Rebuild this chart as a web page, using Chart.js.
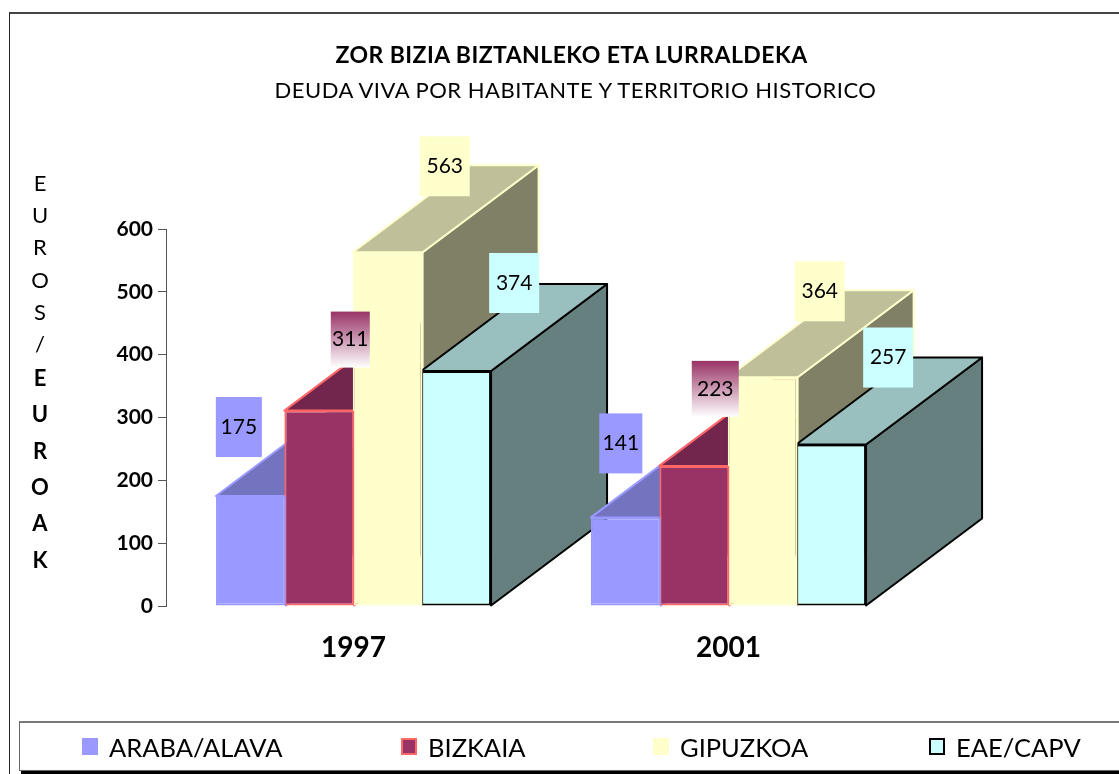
<!DOCTYPE html>
<html lang="eu">
<head>
<meta charset="utf-8">
<title>Zor bizia biztanleko eta lurraldeka</title>
<script src="https://cdn.jsdelivr.net/npm/chart.js@4"></script>
<style>
    html, body { margin: 0; width: 1119px; height: 774px; overflow: hidden; background: #fff; }
    body { position: relative; font-family: Lato, sans-serif; color: #000; }
    canvas { position: absolute; left: 0; top: 0; }
    #frame { position: absolute; left: 9px; top: 12px; width: 1300px; height: 760px;
             border-left: 1px solid #222; border-top: 2px solid #444; }
    .heading { position: absolute; width: 900px; text-align: center; white-space: nowrap; font-size: 23px; line-height: 28px; }
    #title { left: 121.5px; top: 40px; font-weight: 700; letter-spacing: 0.44px; }
    #subtitle { left: 125.5px; top: 76px; font-size: 22px; letter-spacing: 0.5px; }
    #axis-title { position: absolute; left: 20px; top: 167px; width: 40px; text-align: center; font-size: 22px; }
    #axis-title div { height: 32.2px; line-height: 32px; }
    #axis-title div.bold { height: 36.3px; line-height: 36px; font-weight: 700; }
    #legend { position: absolute; left: 19px; top: 721px; width: 1300px; height: 47px;
              border: 1px solid #666; border-top: 2px solid #777; box-shadow: 2px 3px 0 #000; background: #fff; }
    #legend .item { position: absolute; top: 0; height: 47px; display: flex; align-items: center; font-size: 25.5px; }
    #legend .swatch { display: block; width: 12px; height: 13px; border: 2px solid; margin-right: 11px; }
</style>
</head>
<body>
<div id="frame"></div>
<canvas id="chart" width="1150" height="774"></canvas>
<div id="title" class="heading"></div>
<div id="subtitle" class="heading"></div>
<div id="axis-title"></div>
<div id="legend"></div>
<script>
const FONT = 'Lato';

// Chart data
const years = ['1997', '2001'];
const seriesNames = ['ARABA/ALAVA', 'BIZKAIA', 'GIPUZKOA', 'EAE/CAPV'];
const araba = [175, 141];
const bizkaia = [311, 223];
const gipuzkoa = [563, 364];
const eae = [374, 257];
const titleText = 'ZOR BIZIA BIZTANLEKO ETA LURRALDEKA';
const subtitleText = 'DEUDA VIVA POR HABITANTE Y TERRITORIO HISTORICO';
const axisNormal = 'EUROS/';
const axisBold = 'EUROAK';

// Series styling
const FILLS = ['#9999ff', '#993366', '#ffffcc', '#ccffff'];
const EDGES = ['#9999ff', '#ff6666', '#ffffcc', '#000000'];

// How far the 3D blocks run back, in pixels
const DEPTH_X = 116;
const DEPTH_Y = 87;

// Hand placed value boxes: [shift from bar centre, gap above bar top, box width], per series then year
const LABEL_BOXES = [
    [[-12, 39, 46], [-5, 44, 43]],
    [[31, 43, 39], [21, 49, 47]],
    [[57, 56, 50], [57, 56, 50]],
    [[58, 58, 50], [57, 57, 50]]
];

// Left edge of each legend entry inside the legend box
const LEGEND_LEFT = [62, 381, 633, 909];

/**
 * Darken a hex colour by a factor, for the top and side faces
 */
function shade(hex, factor) {
    const n = parseInt(hex.slice(1), 16);
    const r = Math.round((n >> 16) * factor);
    const g = Math.round(((n >> 8) & 255) * factor);
    const b = Math.round((n & 255) * factor);
    return `rgb(${r},${g},${b})`;
}

function fillFace(ctx, points, fill, edge) {
    ctx.beginPath();
    points.forEach((p, i) => (i ? ctx.lineTo(p[0], p[1]) : ctx.moveTo(p[0], p[1])));
    ctx.closePath();
    ctx.fillStyle = fill;
    ctx.fill();
    ctx.lineWidth = 2;
    ctx.strokeStyle = edge;
    ctx.stroke();
}

/**
 * Side and top faces go under the native bars, which act as the front faces.
 * Walks year by year so the later block overlaps the earlier one.
 */
const depthPlugin = {
    id: 'depth',
    beforeDatasetsDraw(chart) {
        const ctx = chart.ctx;
        ctx.save();
        ctx.lineJoin = 'round';
        years.forEach((year, i) => {
            chart.data.datasets.forEach((dataset, d) => {
                const bar = chart.getDatasetMeta(d).data[i];
                const left = bar.x - bar.width / 2;
                const right = bar.x + bar.width / 2;
                fillFace(ctx, [
                    [right, bar.y], [right + DEPTH_X, bar.y - DEPTH_Y],
                    [right + DEPTH_X, bar.base - DEPTH_Y], [right, bar.base]
                ], shade(FILLS[d], 0.5), EDGES[d]);
                fillFace(ctx, [
                    [left, bar.y], [left + DEPTH_X, bar.y - DEPTH_Y],
                    [right + DEPTH_X, bar.y - DEPTH_Y], [right, bar.y]
                ], shade(FILLS[d], 0.75), EDGES[d]);
            });
        });
        ctx.restore();
    },
    afterDatasetsDraw(chart) {
        const ctx = chart.ctx;
        ctx.save();
        chart.data.datasets.forEach((dataset, d) => {
            chart.getDatasetMeta(d).data.forEach((bar, i) => {
                const [shift, gap, width] = LABEL_BOXES[d][i];
                const height = d === 1 ? 56 : 60;
                const x = bar.x + shift - width / 2;
                const y = bar.y - gap - height;
                if (d === 1) {
                    const grad = ctx.createLinearGradient(0, y, 0, y + height);
                    grad.addColorStop(0, FILLS[d]);
                    grad.addColorStop(1, '#ffffff');
                    ctx.fillStyle = grad;
                } else {
                    ctx.fillStyle = FILLS[d];
                }
                ctx.fillRect(x, y, width, height);
                ctx.fillStyle = '#000';
                ctx.font = `21px ${FONT}`;
                ctx.textAlign = 'center';
                ctx.textBaseline = 'middle';
                ctx.fillText(dataset.data[i], x + width / 2, y + height / 2);
            });
        });
        ctx.restore();
    }
};

const chart = new Chart(document.getElementById('chart'), {
    type: 'bar',
    plugins: [depthPlugin],
    data: {
        labels: years,
        datasets: [araba, bizkaia, gipuzkoa, eae].map((values, d) => ({
            label: seriesNames[d],
            data: values,
            backgroundColor: FILLS[d],
            borderColor: EDGES[d],
            borderWidth: 2,
            borderSkipped: false,
            barPercentage: 1.02,
            categoryPercentage: 0.73
        }))
    },
    options: {
        responsive: false,
        animation: false,
        devicePixelRatio: 1,
        layout: { padding: { left: 0, right: 234, top: 229, bottom: 92.4 } },
        plugins: {
            legend: { display: false },
            tooltip: { enabled: false }
        },
        scales: {
            x: {
                grid: { display: false },
                border: { display: false },
                ticks: { color: '#000', padding: 17, maxRotation: 0, font: { family: FONT, size: 28, weight: 'bold' } }
            },
            y: {
                min: 0,
                max: 600,
                afterFit(scale) { scale.width = 166; },
                grid: { drawOnChartArea: false, tickLength: 8, tickColor: '#555' },
                border: { color: '#555', width: 1 },
                ticks: { stepSize: 100, color: '#000', padding: 5, font: { family: FONT, size: 21, weight: 'bold' } }
            }
        }
    }
});

document.getElementById('title').textContent = titleText;
document.getElementById('subtitle').textContent = subtitleText;

// Vertical axis title, one letter per row
const axisTitle = document.getElementById('axis-title');
[[axisNormal, ''], [axisBold, 'bold']].forEach(([word, cls]) => {
    [...word].forEach(letter => {
        const row = document.createElement('div');
        row.className = cls;
        row.textContent = letter;
        axisTitle.appendChild(row);
    });
});

// HTML legend built from the chart's datasets
const legend = document.getElementById('legend');
chart.data.datasets.forEach((dataset, d) => {
    const item = document.createElement('div');
    item.className = 'item';
    item.style.left = LEGEND_LEFT[d] + 'px';
    const swatch = document.createElement('span');
    swatch.className = 'swatch';
    swatch.style.background = dataset.backgroundColor;
    swatch.style.borderColor = dataset.borderColor;
    item.appendChild(swatch);
    item.appendChild(document.createTextNode(dataset.label));
    legend.appendChild(item);
});
</script>
</body>
</html>
